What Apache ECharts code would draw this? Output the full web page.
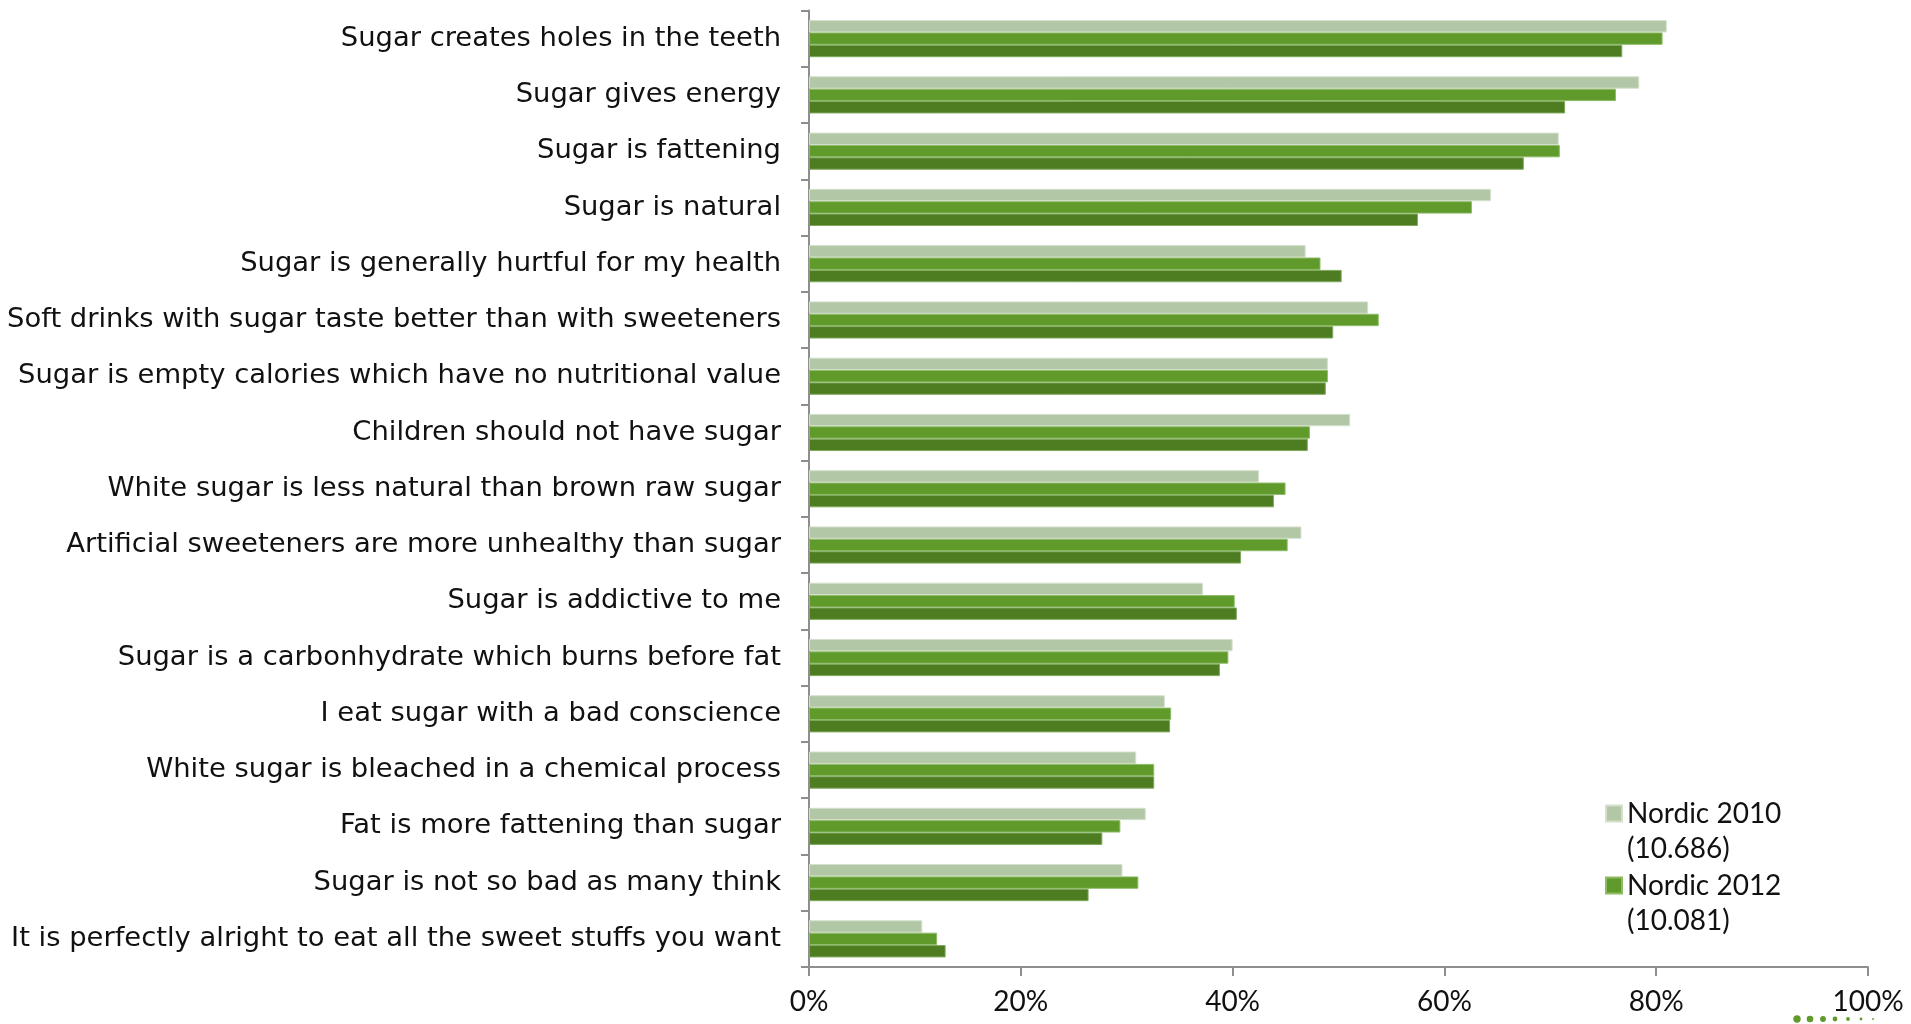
<!DOCTYPE html>
<html>
<head>
<meta charset="utf-8">
<title>Attitudes to sugar</title>
<script src="https://cdn.jsdelivr.net/npm/echarts@6/dist/echarts.min.js"></script>
<style>
  html, body { margin: 0; padding: 0; background: #fff; }
  #chart { width: 1911px; height: 1024px; }
</style>
</head>
<body>
<div id="chart"></div>
<script>
// Statements, top to bottom
const categories = [
  'Sugar creates holes in the teeth',
  'Sugar gives energy',
  'Sugar is fattening',
  'Sugar is natural',
  'Sugar is generally hurtful for my health',
  'Soft drinks with sugar taste better than with sweeteners',
  'Sugar is empty calories which have no nutritional value',
  'Children should not have sugar',
  'White sugar is less natural than brown raw sugar',
  'Artificial sweeteners are more unhealthy than sugar',
  'Sugar is addictive to me',
  'Sugar is a carbonhydrate which burns before fat',
  'I eat sugar with a bad conscience',
  'White sugar is bleached in a chemical process',
  'Fat is more fattening than sugar',
  'Sugar is not so bad as many think',
  'It is perfectly alright to eat all the sweet stuffs you want'
];

// Share agreeing (%)
const nordic2010 = [81.0, 78.4, 70.8, 64.4, 46.9, 52.8, 49.0, 51.1, 42.5, 46.5, 37.2, 40.0, 33.6, 30.9, 31.8, 29.6, 10.7];
const nordic2012 = [80.6, 76.2, 70.9, 62.6, 48.3, 53.8, 49.0, 47.3, 45.0, 45.2, 40.2, 39.6, 34.2, 32.6, 29.4, 31.1, 12.1];
const thirdWave  = [76.8, 71.4, 67.5, 57.5, 50.3, 49.5, 48.8, 47.1, 43.9, 40.8, 40.4, 38.8, 34.1, 32.6, 27.7, 26.4, 12.9];

// Legend entries and their sample sizes
const legendNames = ['Nordic 2010', 'Nordic 2012'];
const sampleSizes = ['10.686', '10.081'];

// Axis ticks
const xTicks = [0, 20, 40, 60, 80, 100];

const FONT = 'Lato, "Noto Sans", sans-serif';
const LABEL_FONT = '"DejaVu Sans", sans-serif';
const AXIS_GREY = '#8e8e8e';

const colors = {
  light: '#b2c7a6',
  mid: '#5f9a2b',
  dark: '#4e7c21'
};

// Legend marker: a square aligned with the first of two text lines;
// the bare move-to points only widen the icon's box to two lines' height
const LINE_H = 35;
const legendIcon = 'path://M0,0 M16,70 M0,9.5 L16,9.5 L16,25.5 L0,25.5 Z';

const chart = echarts.init(document.getElementById('chart'), null, { renderer: 'canvas' });

function barSeries(name, data, color, border) {
  return {
    name: name,
    type: 'bar',
    data: data,
    barGap: '0%',
    barCategoryGap: '34%',
    itemStyle: { color: color, borderColor: border, borderWidth: 1 },
    emphasis: { disabled: true },
    animation: false
  };
}

const dotX = [1797, 1810, 1823, 1835, 1848, 1861, 1873];
const dotR = [3.7, 3.3, 2.9, 2.4, 1.9, 1.4, 0.9];

chart.setOption({
  backgroundColor: '#ffffff',
  animation: false,
  textStyle: { fontFamily: FONT },
  grid: {
    left: 809, right: 43, top: 10.5, bottom: 57,
    containLabel: false,
    outerBoundsMode: 'none'
  },
  legend: {
    orient: 'vertical',
    left: 1605,
    top: 795,
    padding: 0,
    itemGap: 0,
    itemWidth: 16,
    itemHeight: 2 * LINE_H,
    data: legendNames.map(n => ({ name: n, icon: legendIcon })),
    formatter: function (name) {
      const i = legendNames.indexOf(name);
      return name + '\n(' + sampleSizes[i] + ')';
    },
    textStyle: { fontFamily: FONT, fontSize: 28, lineHeight: LINE_H, color: '#111' },
    selectedMode: false
  },
  xAxis: {
    type: 'value',
    min: xTicks[0],
    max: xTicks[xTicks.length - 1],
    interval: 20,
    axisLine: { show: true, lineStyle: { color: AXIS_GREY, width: 2 } },
    axisTick: { show: true, length: 9, lineStyle: { color: AXIS_GREY, width: 2 } },
    splitLine: { show: false },
    axisLabel: {
      formatter: '{value}%',
      fontFamily: FONT,
      fontSize: 28,
      color: '#111',
      margin: 21
    }
  },
  yAxis: {
    type: 'category',
    data: categories,
    inverse: true,
    axisLine: { show: true, lineStyle: { color: AXIS_GREY, width: 2 } },
    axisTick: { show: true, length: 8, lineStyle: { color: AXIS_GREY, width: 2 } },
    axisLabel: {
      fontFamily: LABEL_FONT,
      fontSize: 27.4,
      color: '#111',
      margin: 28
    }
  },
  series: [
    barSeries('Nordic 2010', nordic2010, colors.light, '#d4e0cc'),
    barSeries('Nordic 2012', nordic2012, colors.mid, '#8dbb66'),
    barSeries('Third wave', thirdWave, colors.dark, '#7fa85c')
  ],
  graphic: dotX.map((x, i) => ({
    type: 'circle',
    shape: { cx: x, cy: 1019, r: dotR[i] },
    style: { fill: colors.mid },
    silent: true
  }))
});
</script>
</body>
</html>
